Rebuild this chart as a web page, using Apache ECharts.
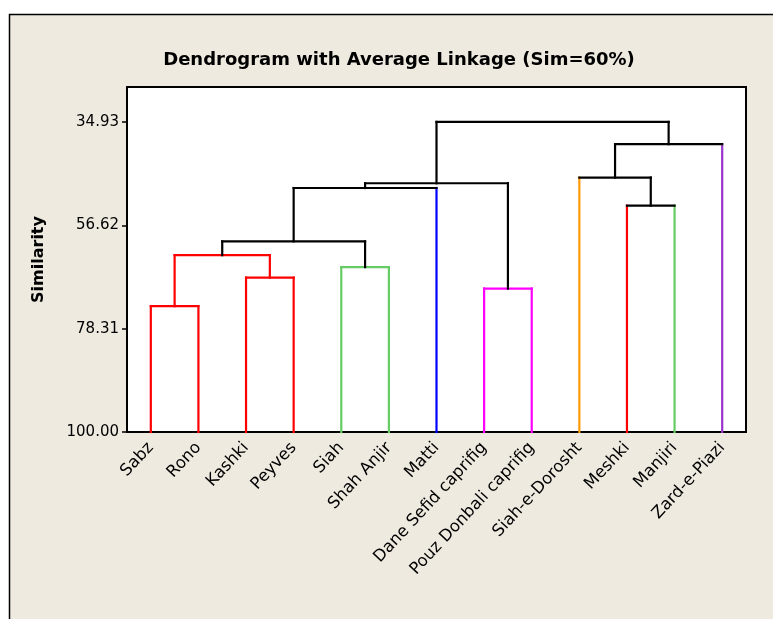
<!DOCTYPE html>
<html>
<head>
<meta charset="utf-8">
<script src="https://cdn.jsdelivr.net/npm/echarts@6/dist/echarts.min.js"></script>
<style>html,body{margin:0;padding:0;background:#fff;}#c{width:773px;height:619px;}</style>
</head>
<body>
<div id="c"></div>
<script>
// ---------- DATA ----------
const leaves = ['Sabz','Rono','Kashki','Peyves','Siah','Shah Anjir','Matti',
  'Dane Sefid caprifig','Pouz Donbali caprifig','Siah-e-Dorosht','Meshki','Manjiri','Zard-e-Piazi'];
// merges: node ids 0..12 are leaves, merge k creates node 13+k
const mergeLeft  = [0, 2, 13, 4, 15, 17, 7, 18, 10, 9, 22, 20];
const mergeRight = [1, 3, 14, 5, 16, 6, 8, 19, 11, 21, 12, 23];
const mergeSim   = [73.6, 67.6, 62.9, 65.4, 60.0, 48.8, 69.9, 47.8, 52.5, 46.6, 39.6, 34.93];
const tickValues = [34.93, 56.62, 78.31, 100.00];
const cutoff = 60;

// ---------- STYLE ----------
const RED='#FF0000', GREEN='#66CC66', BLUE='#0000FF', MAG='#FF00FF', ORANGE='#FF9900', PURPLE='#9933CC';
const leafColor = [RED, RED, RED, RED, GREEN, GREEN, BLUE, MAG, MAG, ORANGE, RED, GREEN, PURPLE];

// ---------- BUILD SEGMENTS ----------
const nLeaf = leaves.length;
const pos = [], sim = [], col = [];
for (let i = 0; i < nLeaf; i++) { pos[i] = i; sim[i] = 100; col[i] = leafColor[i]; }
const segs = [];
const segColor = [];
mergeSim.forEach((s, k) => {
  const id = nLeaf + k, a = mergeLeft[k], b = mergeRight[k];
  pos[id] = (pos[a] + pos[b]) / 2;
  sim[id] = s;
  col[id] = s > cutoff ? col[a] : '#000';
  [a, b].forEach(c => {
    segs.push([pos[c], sim[c], pos[c], s]);
    segColor.push(c < nLeaf ? col[c] : (s > cutoff ? col[c] : '#000'));
  });
  segs.push([pos[a], s, pos[b], s]);
  segColor.push(col[id]);
});

const chart = echarts.init(document.getElementById('c'));
const FONT = 'DejaVu Sans';
chart.setOption({
  backgroundColor: '#fff',
  animation: false,
  graphic: [{
    type: 'rect', z: -100, silent: true,
    shape: { x: 9.5, y: 14.5, width: 800, height: 700 },
    style: { fill: '#EEEAE0', stroke: '#000', lineWidth: 1.5 }
  }],
  title: {
    text: 'Dendrogram with Average Linkage (Sim=60%)',
    left: 394, top: 46, textAlign: 'center',
    textStyle: { fontFamily: FONT, fontWeight: 'bold', fontSize: 18, color: '#000' }
  },
  grid: {
    left: 127, right: 27, top: 87, bottom: 187,
    show: true, backgroundColor: '#fff', borderColor: '#000', borderWidth: 2
  },
  xAxis: {
    type: 'category', data: leaves, boundaryGap: true,
    axisLine: { lineStyle: { color: '#000', width: 1.5 } },
    axisTick: { alignWithLabel: true, length: 6, lineStyle: { color: '#000', width: 1.5 } },
    axisLabel: { rotate: 47, margin: 13, fontFamily: FONT, fontSize: 16.5, color: '#000', interval: 0 },
    splitLine: { show: false }
  },
  yAxis: {
    type: 'value', inverse: true, min: 27.6, max: 100,
    name: 'Similarity', nameLocation: 'middle', nameGap: 80, nameRotate: 90,
    nameTextStyle: { fontFamily: FONT, fontWeight: 'bold', fontSize: 16, color: '#000' },
    axisLine: { show: true, lineStyle: { color: '#000', width: 2 } },
    axisTick: { show: true, length: 5, customValues: tickValues, lineStyle: { color: '#000', width: 1.5 } },
    axisLabel: { customValues: tickValues, fontFamily: FONT, fontSize: 15, color: '#000', margin: 8,
      formatter: v => v.toFixed(2) },
    splitLine: { show: false }
  },
  series: [{
    type: 'custom',
    data: segs,
    encode: { x: [0, 2], y: [1, 3] },
    clip: false,
    renderItem: function (params, api) {
      function pt(xp, yv) {
        const i = Math.floor(xp), f = xp - i;
        const p0 = api.coord([i, yv]);
        if (f === 0) return p0;
        const p1 = api.coord([i + 1, yv]);
        return [p0[0] + f * (p1[0] - p0[0]), p0[1]];
      }
      const a = pt(api.value(0), api.value(1));
      const b = pt(api.value(2), api.value(3));
      return {
        type: 'line',
        shape: { x1: a[0], y1: a[1], x2: b[0], y2: b[1] },
        style: { stroke: segColor[params.dataIndex], lineWidth: 2.2, lineCap: 'square' }
      };
    }
  }]
});
</script>
</body>
</html>
